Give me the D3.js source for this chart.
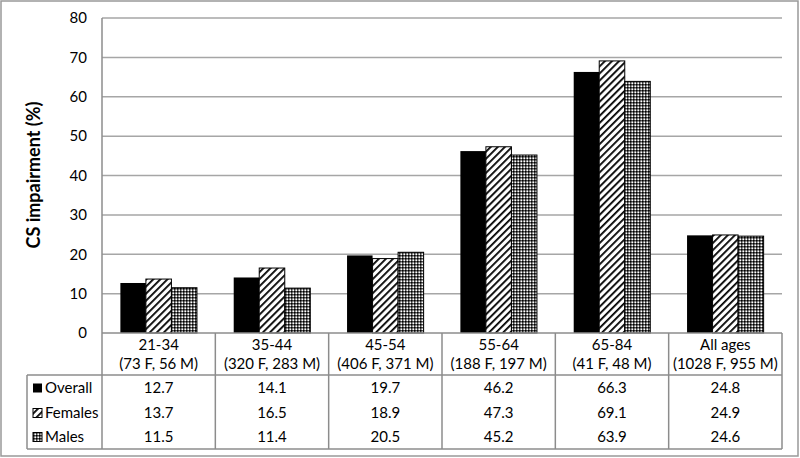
<!DOCTYPE html>
<html><head><meta charset="utf-8">
<script src="https://cdn.jsdelivr.net/npm/d3@7"></script>
<style>body{margin:0;background:#fff}svg{display:block}text{font-family:Lato,"Open Sans",sans-serif;fill:#000}</style>
</head><body>
<svg id="c" width="800" height="458"></svg>
<script>
const categories = ["21-34","35-44","45-54","55-64","65-84","All ages"];
const sampleSizes = ["(73 F, 56 M)","(320 F, 283 M)","(406 F, 371 M)","(188 F, 197 M)","(41 F, 48 M)","(1028 F, 955 M)"];
const seriesNames = ["Overall","Females","Males"];
const overall = [12.7,14.1,19.7,46.2,66.3,24.8];
const females = [13.7,16.5,18.9,47.3,69.1,24.9];
const males = [11.5,11.4,20.5,45.2,63.9,24.6];
const yTicks = [0,10,20,30,40,50,60,70,80];
const series = [overall, females, males];

(function(){
const svg = d3.select("#c");
const defs = svg.append("defs");
const hatch = defs.append("pattern").attr("id","hatch").attr("patternUnits","userSpaceOnUse")
  .attr("width",5).attr("height",5).attr("patternTransform","rotate(45)");
hatch.append("rect").attr("width",5).attr("height",5).attr("fill","#fff");
hatch.append("rect").attr("x",0).attr("y",0).attr("width",1.8).attr("height",5).attr("fill","#000");
const dots = defs.append("pattern").attr("id","dots").attr("patternUnits","userSpaceOnUse")
  .attr("width",3).attr("height",3);
dots.append("rect").attr("width",3).attr("height",3).attr("fill","#555");
dots.append("rect").attr("x",0).attr("y",0).attr("width",1.5).attr("height",1.5).attr("fill","#000");
dots.append("rect").attr("x",1.5).attr("y",1.5).attr("width",1.5).attr("height",1.5).attr("fill","#fff");
const fills = ["#000","url(#hatch)","url(#dots)"];

svg.append("rect").attr("x",1).attr("y",1).attr("width",797).attr("height",455)
  .attr("fill","none").attr("stroke","#999").attr("stroke-width",1.5);

const pL = 102, pR = 782, pT = 18, pB = 333;
const x = d3.scaleBand().domain(categories).range([pL,pR]);
const xs = d3.scaleBand().domain(seriesNames).range([0,x.bandwidth()]).paddingInner(0).paddingOuter(0.72);
const y = d3.scaleLinear().domain([0,80]).range([pB,pT]);

svg.append("g").selectAll("line").data(yTicks.filter(d=>d>0)).join("line")
  .attr("x1",pL).attr("x2",pR).attr("y1",d=>y(d)).attr("y2",d=>y(d))
  .attr("stroke","#a6a6a6").attr("stroke-width",1.5);

const ya = svg.append("g").attr("transform",`translate(${pL},0)`)
  .call(d3.axisLeft(y).tickValues(yTicks).tickSize(0).tickPadding(15));
ya.select(".domain").remove();
ya.selectAll("text").style("font-family","Lato, sans-serif").style("font-size","15px").attr("fill","#000");

svg.append("text").attr("transform",`translate(40,175) rotate(-90)`)
  .attr("text-anchor","middle").attr("font-weight","bold").attr("font-size","18px")
  .text("CS impairment (%)");

series.forEach((vals,si)=>{
  svg.append("g").selectAll("rect").data(vals).join("rect")
    .attr("x",(d,i)=>x(categories[i])+xs(seriesNames[si]))
    .attr("width",xs.bandwidth())
    .attr("y",d=>y(d)).attr("height",d=>y(0)-y(d))
    .attr("fill",fills[si]).attr("stroke","#000").attr("stroke-width",si===0?0:1);
});

const tc = "#8c8c8c";
svg.append("line").attr("x1",pL).attr("x2",pL).attr("y1",pT).attr("y2",449).attr("stroke",tc).attr("stroke-width",1.5);
svg.append("line").attr("x1",pL).attr("x2",pR).attr("y1",pB).attr("y2",pB).attr("stroke",tc).attr("stroke-width",1.5);

const hdrBottom = 375, tblBottom = 449, tblLeft = 27;
const rowY = [388,413,437];
const tg = svg.append("g");
categories.forEach((c,i)=>{
  tg.append("line").attr("x1",x(c)+x.bandwidth()).attr("x2",x(c)+x.bandwidth())
    .attr("y1",pB).attr("y2",tblBottom).attr("stroke",tc).attr("stroke-width",1.5);
});
tg.append("line").attr("x1",tblLeft).attr("x2",pR).attr("y1",hdrBottom).attr("y2",hdrBottom).attr("stroke",tc).attr("stroke-width",1.5);
tg.append("line").attr("x1",tblLeft).attr("x2",pR).attr("y1",tblBottom).attr("y2",tblBottom).attr("stroke",tc).attr("stroke-width",1.5);
tg.append("line").attr("x1",tblLeft).attr("x2",tblLeft).attr("y1",hdrBottom).attr("y2",tblBottom).attr("stroke",tc).attr("stroke-width",1.5);

tg.selectAll("text.cat").data(categories).join("text").attr("class","cat")
  .attr("x",d=>x(d)+x.bandwidth()/2).attr("y",350).attr("text-anchor","middle").attr("font-size","15px").text(d=>d);
tg.selectAll("text.n").data(sampleSizes).join("text").attr("class","n")
  .attr("x",(d,i)=>x(categories[i])+x.bandwidth()/2).attr("y",369).attr("text-anchor","middle").attr("font-size","15px").text(d=>d);

series.forEach((vals,si)=>{
  tg.append("g").selectAll("text").data(vals).join("text")
    .attr("x",(d,i)=>x(categories[i])+x.bandwidth()/2).attr("y",rowY[si]+5)
    .attr("text-anchor","middle").attr("font-size","15px").text(d=>d.toFixed(1));
  tg.append("rect").attr("x",33).attr("y",rowY[si]-4.5).attr("width",9).attr("height",9)
    .attr("fill",fills[si]).attr("stroke","#000").attr("stroke-width",si===0?0:1);
  tg.append("text").attr("x",45).attr("y",rowY[si]+5).attr("font-size","15px").text(seriesNames[si]);
});
})();
</script>
</body></html>
